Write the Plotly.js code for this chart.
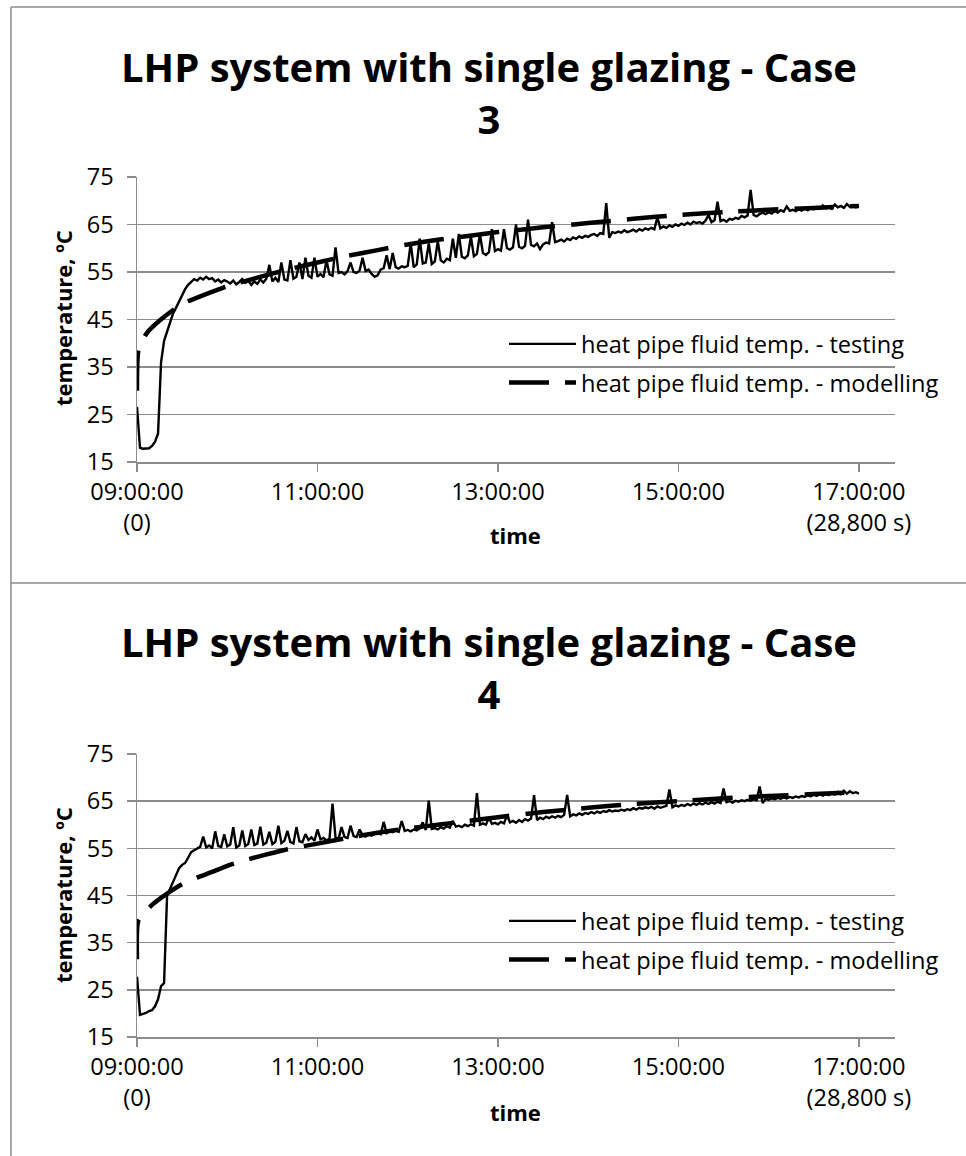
<!DOCTYPE html>
<html>
<head>
<meta charset="utf-8">
<script src="https://cdn.plot.ly/plotly-3.0.1.min.js"></script>
<style>html,body{margin:0;padding:0;background:#fff;}#chart{width:966px;height:1156px;}</style>
</head>
<body>
<div id="chart"></div>
<script>
// ---------- DATA ----------
const sampleStepSeconds = 120; // measured series sampled every 120 s from 09:00:00
const timeTickValues = [0, 7200, 14400, 21600, 28800];
const timeTickLabels = ['09:00:00<br>(0)', '11:00:00', '13:00:00', '15:00:00', '17:00:00<br>(28,800 s)'];
const seriesNames = ['heat pipe fluid temp. - testing', 'heat pipe fluid temp. - modelling'];
const chartTitles = ['LHP system with single glazing - Case<br>3', 'LHP system with single glazing - Case<br>4'];

// Case 3 - testing (one value every 120 s)
const case3Testing = [
  26.6, 18.0, 17.8, 17.8, 17.9, 18.4, 19.3, 21.0, 36.0, 40.5,
  42.5, 44.5, 46.3, 47.5, 48.9, 50.0, 51.4, 52.3, 53.0, 53.5,
  53.2, 53.8, 53.4, 54.0, 53.5, 53.7, 53.0, 53.4, 52.8, 53.3,
  53.0, 52.6, 53.2, 52.4, 52.9, 53.5, 52.7, 53.1, 52.3, 53.0,
  52.5, 53.4, 52.8, 53.6, 56.5, 53.0, 53.8, 52.9, 57.0, 53.4,
  53.2, 57.5, 53.6, 54.0, 57.0, 53.5, 58.0, 54.2, 53.8, 58.0,
  54.0, 54.6, 53.9, 57.5, 54.5, 54.2, 60.2, 54.8, 55.0, 54.5,
  55.2, 57.0, 55.0, 54.8, 55.3, 58.0, 55.2, 55.5, 54.6, 54.0,
  54.3, 55.5, 55.8, 58.5, 55.6, 59.0, 56.0, 55.7, 56.2, 56.0,
  56.3, 61.0, 56.0, 56.6, 62.0, 56.8, 57.0, 61.0, 56.7, 57.2,
  61.5, 57.4, 57.0, 57.8, 57.5, 62.0, 58.0, 63.0, 58.2, 57.9,
  58.5, 62.5, 58.3, 58.8, 63.0, 59.0, 58.6, 59.2, 64.0, 59.4,
  59.8, 59.5, 64.0, 60.0, 59.7, 60.2, 65.0, 60.3, 60.0, 60.5,
  66.0, 60.7, 60.4, 61.0, 59.8, 60.8, 61.2, 61.0, 65.5, 61.3,
  61.5, 61.8, 61.4, 62.0, 61.7, 62.3, 62.0, 62.5, 62.2, 62.6,
  62.4, 62.8, 63.0, 62.6, 63.2, 63.0, 69.5, 62.2, 63.4, 63.2,
  63.5, 63.3, 63.8, 63.4, 63.6, 63.9, 63.5, 64.0, 63.7, 64.2,
  63.9, 64.3, 64.0, 66.5, 64.2, 64.6, 64.3, 64.8, 64.5, 65.0,
  64.7, 65.2, 64.9, 65.4, 65.0, 65.6, 65.3, 65.5, 65.2, 65.8,
  67.0, 65.5, 65.9, 69.8, 65.7, 66.0, 65.6, 66.2, 66.0, 66.4,
  66.2, 66.8, 66.5, 66.9, 72.3, 67.0, 66.7, 67.2, 67.5, 67.2,
  67.6, 67.3, 67.8, 67.5, 68.0, 67.7, 68.8, 67.9, 68.1, 67.8,
  68.2, 67.9, 68.4, 68.0, 68.6, 68.2, 68.7, 68.3, 69.0, 68.4,
  68.8, 68.3, 69.2, 68.6, 68.9, 68.5, 69.3, 68.7, 69.0, 68.6,
  68.9
];

// Case 3 - modelling
const case3ModelTime = [0, 60, 400, 1000, 1800, 2400, 3600, 4800, 6000, 7200, 8400, 9600, 10800, 12000, 13200, 14400, 16200, 18000, 19800, 21600, 23400, 25200, 27000, 28800];
const case3ModelTemp = [30.0, 38.6, 42.2, 45.2, 48.3, 49.6, 52.0, 53.8, 55.5, 57.0, 58.4, 59.6, 60.8, 61.8, 62.6, 63.4, 64.4, 65.3, 66.2, 67.0, 67.6, 68.1, 68.5, 68.9];

// Case 4 - testing (one value every 120 s)
const case4Testing = [
  27.8, 19.7, 19.9, 20.1, 20.5, 20.7, 21.5, 23.0, 25.8, 26.4,
  45.0, 46.5, 48.0, 49.3, 50.8, 51.5, 51.9, 53.0, 54.2, 54.6,
  55.0, 55.3, 57.5, 55.2, 55.6, 55.0, 58.6, 55.5, 55.3, 58.0,
  55.4, 55.8, 59.5, 55.2, 55.6, 58.8, 55.5, 55.9, 59.0, 55.7,
  56.0, 59.6, 55.8, 56.2, 58.5, 55.9, 56.4, 59.8, 56.1, 56.6,
  58.7, 56.3, 56.0, 59.5, 56.5, 56.3, 58.0, 56.8, 57.3, 56.6,
  59.0, 56.9, 57.2, 56.7, 57.0, 64.5, 57.3, 57.0, 59.5, 57.4,
  57.2, 59.8, 57.6, 57.4, 59.0, 57.8, 57.5, 58.0, 57.7, 58.1,
  58.3, 58.0, 60.6, 58.2, 58.6, 58.4, 58.8, 58.5, 60.8, 58.7,
  58.9, 58.6, 59.0, 58.8, 59.2, 60.5, 58.9, 65.1, 59.1, 59.3,
  59.0, 59.5, 59.2, 59.7, 59.4, 60.8, 59.6, 59.8, 59.5, 60.0,
  59.7, 60.1, 59.8, 66.7, 60.0, 60.3, 60.0, 61.5, 60.2, 60.4,
  60.1, 60.6, 60.3, 62.0, 60.5, 60.8, 60.4, 61.0, 60.6, 61.2,
  60.9, 61.3, 66.3, 61.0, 61.5, 61.2, 61.7, 61.4, 61.8, 61.5,
  61.9, 61.6, 62.1, 66.3, 61.8, 62.2, 62.0, 62.4, 62.1, 62.5,
  62.3, 62.7, 62.4, 62.8, 62.5, 62.9, 62.7, 63.1, 62.8, 63.0,
  62.9, 63.2, 63.0, 63.3, 63.1, 63.5, 63.2, 63.6, 63.4, 63.7,
  63.5, 63.8, 63.4, 63.9, 63.6, 63.8, 64.0, 67.5, 63.7, 64.1,
  63.9, 64.2, 64.0, 64.4, 64.1, 64.5, 64.2, 64.6, 64.3, 64.7,
  64.4, 64.8, 64.5, 64.9, 64.6, 67.7, 64.8, 65.0, 64.7, 65.1,
  64.9, 65.2, 65.0, 65.3, 65.1, 65.4, 65.2, 68.1, 64.6, 65.5,
  65.3, 65.6, 65.4, 65.7, 65.5, 65.8, 65.6, 65.9, 65.7, 66.0,
  65.8, 66.1, 65.9, 66.3, 66.0, 66.4, 66.1, 66.5, 66.2, 66.6,
  66.3, 66.8, 66.4, 67.0, 66.5, 67.2, 66.6, 67.1, 66.7, 66.9,
  66.6
];

// Case 4 - modelling
const case4ModelTime = [0, 60, 600, 1200, 1800, 2400, 3000, 3600, 4200, 4800, 5400, 6000, 7200, 8400, 9600, 10800, 12000, 13200, 14400, 16200, 18000, 19800, 21600, 23400, 25200, 27000, 28800];
const case4ModelTemp = [31.5, 39.8, 43.0, 45.4, 47.4, 48.8, 50.0, 51.3, 52.3, 53.2, 54.0, 54.8, 56.0, 57.2, 58.3, 59.2, 60.0, 60.8, 61.6, 62.7, 63.6, 64.4, 65.0, 65.6, 66.1, 66.5, 66.9];

// ---------- DRAWING ----------
const W = 966, H = 1156;
const px = v => v / W;             // pixel -> paper x
const py = v => 1 - v / H;         // pixel -> paper y
const FONT = 'Open Sans, Noto Sans, sans-serif';
const GRAY = '#8c8c8c';
const sampleTimes = arr => arr.map((_, i) => i * sampleStepSeconds);

const testLine = {color: '#000', width: 2.4};
const modelLine = {color: '#000', width: 4.5, dash: '40px,16px', shape: 'spline', smoothing: 0.6};

const traces = [
  {x: sampleTimes(case3Testing), y: case3Testing, xaxis: 'x', yaxis: 'y', mode: 'lines', line: testLine, name: seriesNames[0], legend: 'legend', legendgroup: 'a'},
  {x: case3ModelTime, y: case3ModelTemp, xaxis: 'x', yaxis: 'y', mode: 'lines', line: modelLine, name: seriesNames[1], legend: 'legend', legendgroup: 'b'},
  {x: sampleTimes(case4Testing), y: case4Testing, xaxis: 'x2', yaxis: 'y2', mode: 'lines', line: testLine, name: seriesNames[0], legend: 'legend2', legendgroup: 'c'},
  {x: case4ModelTime, y: case4ModelTemp, xaxis: 'x2', yaxis: 'y2', mode: 'lines', line: modelLine, name: seriesNames[1], legend: 'legend2', legendgroup: 'd'}
];

function xAxis(anchor) {
  return {
    anchor: anchor, domain: [px(137), px(895)], range: [0, 30240],
    tickmode: 'array', tickvals: timeTickValues, ticktext: timeTickLabels,
    ticks: 'outside', ticklen: 8, tickwidth: 1.5, tickcolor: GRAY,
    showline: true, linecolor: GRAY, linewidth: 1.5,
    showgrid: false, zeroline: false, fixedrange: true,
    tickfont: {family: FONT, size: 23.6, color: '#000'}
  };
}
function yAxis(anchor, top, bottom) {
  return {
    anchor: anchor, domain: [py(bottom), py(top)], range: [15, 75],
    tick0: 5, dtick: 10,
    ticks: 'outside', ticklen: 9, tickwidth: 1.5, tickcolor: GRAY,
    showline: true, linecolor: GRAY, linewidth: 1.5,
    showgrid: true, gridcolor: GRAY, gridwidth: 1.5, zeroline: false, fixedrange: true,
    ticklabelstandoff: 8,
    tickfont: {family: FONT, size: 23.6, color: '#000'}
  };
}
function legendAt(topPx) {
  return {
    x: px(504), y: py(topPx), xanchor: 'left', yanchor: 'top',
    bgcolor: 'rgba(0,0,0,0)', borderwidth: 0,
    font: {family: FONT, size: 23.6, color: '#000'},
    itemwidth: 67, traceorder: 'grouped', tracegroupgap: 5
  };
}
function border(x0, y0, x1, y1) {
  return {type: 'line', xref: 'paper', yref: 'paper', x0: px(x0), y0: py(y0), x1: px(x1), y1: py(y1), line: {color: GRAY, width: 1.5}};
}
function note(text, xPix, yPix, size, angle) {
  return {text: text, xref: 'paper', yref: 'paper', x: px(xPix), y: py(yPix), xanchor: 'center', yanchor: 'middle',
    showarrow: false, textangle: angle || 0, font: {family: FONT, size: size, color: '#000'}};
}

const layout = {
  width: W, height: H, margin: {l: 0, r: 0, t: 0, b: 0},
  paper_bgcolor: '#fff', plot_bgcolor: '#fff', showlegend: true,
  xaxis: xAxis('y'), yaxis: yAxis('x', 177, 462),
  xaxis2: xAxis('y2'), yaxis2: yAxis('x2', 754, 1037),
  legend: legendAt(322), legend2: legendAt(899),
  shapes: [border(11, 7, 966, 7), border(11, 7, 11, 1156), border(11, 583, 966, 583)],
  annotations: [
    note('<b>' + chartTitles[0] + '</b>', 489, 93, 40),
    note('<b>' + chartTitles[1] + '</b>', 489, 667, 40),
    note('<b>time</b>', 515, 535, 22),
    note('<b>time</b>', 515, 1112, 22),
    note('<b>temperature, ºC</b>', 63, 318, 22, -90),
    note('<b>temperature, ºC</b>', 63, 895, 22, -90)
  ]
};

Plotly.newPlot('chart', traces, layout, {displayModeBar: false, staticPlot: true});
</script>
</body>
</html>
